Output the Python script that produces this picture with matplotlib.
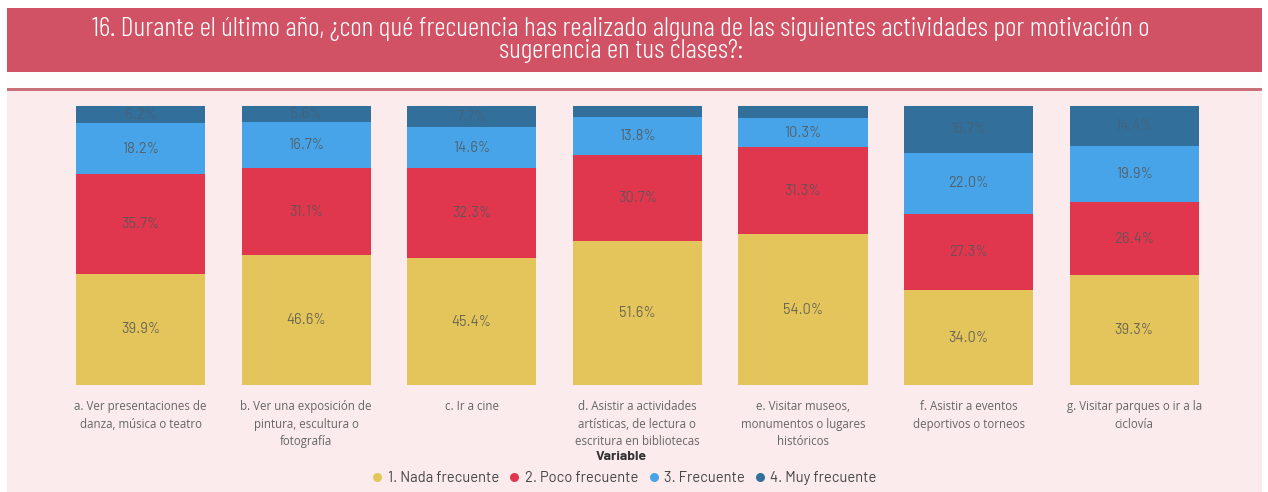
import matplotlib
matplotlib.use("Agg")
import matplotlib.pyplot as plt
from matplotlib.patches import Rectangle
from matplotlib.lines import Line2D
from matplotlib import font_manager
import numpy as np

categories = [
    "a. Ver presentaciones de\ndanza, música o teatro",
    "b. Ver una exposición de\npintura, escultura o\nfotografía",
    "c. Ir a cine",
    "d. Asistir a actividades\nartísticas, de lectura o\nescritura en bibliotecas",
    "e. Visitar museos,\nmonumentos o lugares\nhistóricos",
    "f. Asistir a eventos\ndeportivos o torneos",
    "g. Visitar parques o ir a la\nciclovía",
]
series_names = ["1. Nada frecuente", "2. Poco frecuente", "3. Frecuente", "4. Muy frecuente"]
nada = [39.9, 46.6, 45.4, 51.6, 54.0, 34.0, 39.3]
poco = [35.7, 31.1, 32.3, 30.7, 31.3, 27.3, 26.4]
frecuente = [18.2, 16.7, 14.6, 13.8, 10.3, 22.0, 19.9]
muy = [6.2, 5.6, 7.7, 3.9, 4.4, 16.7, 14.4]
show_label_min = 5.0

colors = ["#E3C55B", "#E0374F", "#47A4E8", "#336F9B"]
title = ("16. Durante el último año, ¿con qué frecuencia has realizado alguna de las siguientes actividades por motivación o\n"
         "sugerencia en tus clases?:")

names = {f.name for f in font_manager.fontManager.ttflist}
def pick(*cands):
    for c in cands:
        if c in names:
            return [c, "DejaVu Sans"]
    return ["DejaVu Sans"]

title_family = pick("Barlow Condensed", "Asap Condensed")
title_size = 20 if "Barlow Condensed" in names else 13.0
din_family = pick("Barlow", "Barlow Semi Condensed", "Roboto")
cat_family = pick("Open Sans", "Noto Sans")

W, H = 1268, 492
fig = plt.figure(figsize=(W/100, H/100), dpi=100)
fig.patch.set_facecolor("white")

def rect(x0, y0, x1, y1, color):
    fig.patches.append(Rectangle((x0/W, 1-y1/H), (x1-x0)/W, (y1-y0)/H,
                                 transform=fig.transFigure, facecolor=color,
                                 edgecolor="none", zorder=-10))

rect(7, 8, 1262, 72, "#D05264")
rect(7, 72, 1262, 88, "#FDFDFE")
rect(7, 88, 1262, 91, "#C9707B")
rect(7, 91, 1262, 492, "#FBEBEC")

fig.text(621/W, 1-40/H, title, ha="center", va="center", color="white",
         fontsize=title_size, family=title_family, fontweight=300, linespacing=0.9)

left, right, top, bottom = 57.7, 1217.0, 106.0, 385.0
ax = fig.add_axes([left/W, 1-bottom/H, (right-left)/W, (bottom-top)/H])
ax.set_zorder(5)
ax.set_facecolor("none")
x = np.arange(len(categories))
data = [nada, poco, frecuente, muy]
base = np.zeros(len(categories))
for vals, col, name in zip(data, colors, series_names):
    vals = np.array(vals)
    ax.bar(x, vals, 0.78, bottom=base, color=col, edgecolor="none", label=name)
    for xi, b, v in zip(x, base, vals):
        if v >= show_label_min:
            ax.text(xi, b + v/2, f"{v:.1f}%", ha="center", va="center",
                    fontsize=10.5, color="#555555", alpha=0.85 if col != colors[3] else 0.45,
                    family=din_family)
    base += vals
ax.set_xlim(-0.5, len(categories)-0.5)
ax.set_ylim(0, 100)
for s in ax.spines.values():
    s.set_visible(False)
ax.set_yticks([])
ax.set_xticks(x)
ax.set_xticklabels(categories, fontsize=8.3, color="#666666", linespacing=1.45,
                   family=cat_family, va="top")
ax.tick_params(axis="x", length=0, pad=11)

fig.text(621/W, 1-456/H, "Variable", ha="center", va="center", fontsize=10,
         fontweight="bold", color="#333333", family=din_family)

handles = [Line2D([], [], marker="o", linestyle="none", markersize=6.5,
                  markerfacecolor=c, markeredgecolor="none") for c in colors]
fig.legend(handles, series_names, loc="center", bbox_to_anchor=(622/W, 1-478/H),
           ncol=4, frameon=False, handletextpad=0.0, columnspacing=0.35, handlelength=1.4,
           labelcolor="#444444", prop={"family": din_family, "size": 10.6})

fig.savefig("out.png", dpi=100, facecolor=fig.get_facecolor())
